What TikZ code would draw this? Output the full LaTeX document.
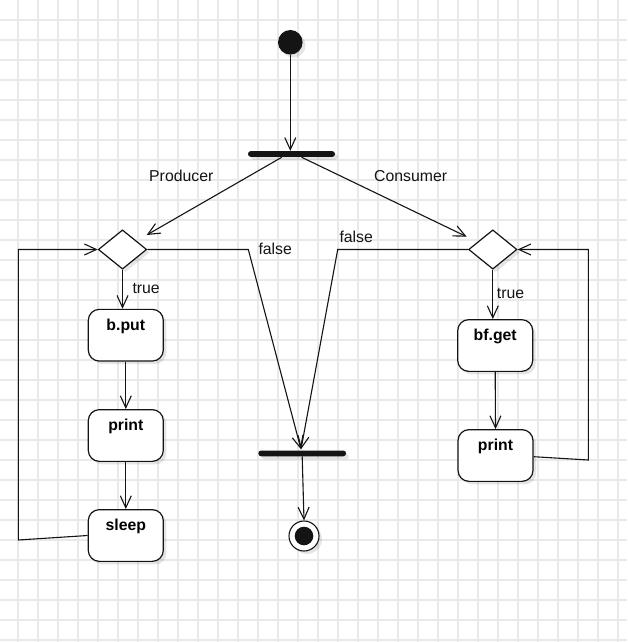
\documentclass[tikz,border=0pt]{standalone}
\usepackage{fontspec}
\setmainfont{Liberation Sans}
\usetikzlibrary{arrows.meta,shapes.geometric,shadows,calc}

\definecolor{gridline}{RGB}{233,233,233}
\definecolor{ink}{RGB}{20,20,20}

\tikzset{
  soft/.style={drop shadow={shadow xshift=3pt,shadow yshift=-3pt,fill=black,opacity=0.1}},
  flow/.style={draw=ink,line width=1.1pt,-{Straight Barb[length=12pt,width=11pt,line width=1.1pt]}},
  action/.style={draw=ink,fill=white,line width=1.2pt,rounded corners=11pt,soft,
    minimum width=75pt,inner xsep=0pt,inner ysep=0pt,text height=21pt,text depth=30.7pt,
    font=\fontsize{15.8}{18}\selectfont\bfseries},
  choice/.style={diamond,draw=ink,fill=white,line width=1.2pt,soft,inner sep=0pt,
    minimum width=48.4pt,minimum height=39.3pt},
  syncbar/.style={rectangle,fill=ink,rounded corners=2.8pt,soft,inner sep=0pt,minimum height=5.8pt},
  tag/.style={inner sep=0pt,anchor=base west,text=ink,font=\fontsize{15.8}{18}\selectfont}
}

\begin{document}
\begin{tikzpicture}[x=1pt,y=-1pt]
  % canvas and background grid
  \useasboundingbox (0,0) rectangle (627,642);
  \fill[white] (0,0) rectangle (627,642);
  \foreach \gx in {18,38,...,618} \draw[gridline,line width=1.1pt] (\gx,0) -- (\gx,642);
  \foreach \gy in {20,40,...,640} \draw[gridline,line width=1.1pt] (0,\gy) -- (627,\gy);

  % initial node and fork bar
  \node[circle,fill=ink,inner sep=0pt,minimum size=24.6pt,soft] (start) at (290.3,42.3) {};
  \node[syncbar,minimum width=87pt] (fork) at (291.5,154) {};

  % decisions
  \node[choice] (dP) at (122.5,249.5) {};
  \node[choice] (dC) at (492.8,249.5) {};

  % producer actions
  \node[action] (bput)   at (125.8,335.2) {b.put};
  \node[action] (printP) at (125.8,435.5) {print};
  \node[action] (sleep)  at (125.8,535.5) {sleep};

  % consumer actions
  \node[action] (bfget)  at (495.2,345.5) {bf.get};
  \node[action] (printC) at (495.5,455.5) {print};

  % join bar and final node
  \node[syncbar,minimum width=87.7pt] (join) at (302.2,453.4) {};
  \node[circle,draw=ink,fill=white,line width=1.1pt,inner sep=0pt,minimum size=30pt,soft] (end) at (304,536) {};
  \fill[ink] (end.center) circle (9.3pt);

  % bend points and free ends
  \coordinate (pTip) at (146.7,235);
  \coordinate (cTip) at (466.7,236.7);
  \coordinate (pOut) at ($(fork.center)+(-9.8,3.3)$);
  \coordinate (cOut) at ($(fork.center)+(10.2,3.3)$);
  \coordinate (lpA) at (18.3,540);
  \coordinate (lpB) at (18.3,249.5);
  \coordinate (rpA) at (588.3,460);
  \coordinate (rpB) at (588.3,249.5);
  \coordinate (fL) at (248.3,249.5);
  \coordinate (fR) at (337.7,249.5);

  % connectors
  \draw[flow] (start) -- (start |- fork.north);
  \draw[flow] (pOut) -- (pTip);
  \draw[flow] (cOut) -- (cTip);

  \draw[flow] (dP.south) -- (dP.south |- bput.north);
  \draw[flow] (bput.south) -- (printP.north);
  \draw[flow] (printP.south) -- (sleep.north);
  \draw[flow] (sleep.west) -- (lpA) -- (lpB) -- (dP.west);

  \draw[flow] (dC.south) -- (dC.south |- bfget.north);
  \draw[flow] (bfget.south) -- (printC.north);
  \draw[flow] ($(printC.east)+(0,1.2)$) -- (rpA) -- (rpB) -- (dC.east);

  \draw[flow] (dP.east) -- (fL) -- ($(join.north)+(-1.2,-1)$);
  \draw[flow] (dC.west) -- (fR) -- ($(join.north)+(-1.2,-1)$);
  \draw[flow] (join.south) -- (end.north);

  % labels
  \node[tag] (lProd) at (149,181.7) {Producer};
  \node[tag] (lCons) at (374,181.7) {Consumer};
  \node[tag] (tP) at (132.3,293.7) {true};
  \node[tag] (tC) at (496.7,298.7) {true};
  \node[tag] (fPl) at (258.3,254.3) {false};
  \node[tag] (fCl) at (339.3,242.3) {false};
\end{tikzpicture}
\end{document}
